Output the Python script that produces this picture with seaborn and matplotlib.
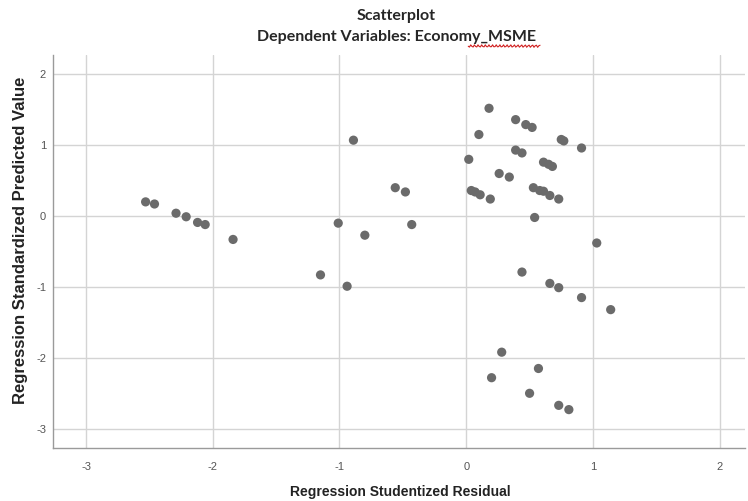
import matplotlib
matplotlib.use("Agg")
import matplotlib.pyplot as plt
import seaborn as sns
import pandas as pd
import numpy as np

# Studentized residual (x) vs standardized predicted value (y)
residual = [-2.53, -2.46, -2.29, -2.21, -2.12, -2.06, -1.84,
            -1.01, -0.80, -1.15, -0.94, -0.56, -0.48, -0.43, -0.89,
            0.18, 0.39, 0.47, 0.52, 0.10, 0.75, 0.77, 0.91, 0.39, 0.44,
            0.02, 0.61, 0.65, 0.68, 0.26, 0.34, 0.04, 0.07, 0.11, 0.19,
            0.53, 0.58, 0.61, 0.66, 0.73, 0.54, 1.03, 0.44, 0.66, 0.73,
            0.91, 1.14, 0.28, 0.57, 0.20, 0.50, 0.73, 0.81]
predicted = [0.20, 0.17, 0.04, -0.01, -0.09, -0.12, -0.33,
             -0.10, -0.27, -0.83, -0.99, 0.40, 0.34, -0.12, 1.07,
             1.52, 1.36, 1.29, 1.25, 1.15, 1.08, 1.06, 0.96, 0.93, 0.89,
             0.80, 0.76, 0.73, 0.70, 0.60, 0.55, 0.36, 0.34, 0.30, 0.24,
             0.40, 0.36, 0.35, 0.29, 0.24, -0.02, -0.38, -0.79, -0.95, -1.01,
             -1.15, -1.32, -1.92, -2.15, -2.28, -2.50, -2.67, -2.73]
x_ticks = [-3, -2, -1, 0, 1, 2]
y_ticks = [-3, -2, -1, 0, 1, 2]

df = pd.DataFrame({"resid": residual, "pred": predicted})

sns.set_style("white")
plt.rcParams['font.family'] = ['Liberation Sans', 'DejaVu Sans']
plt.rcParams['axes.unicode_minus'] = False

fig = plt.figure(figsize=(7.48, 5.01), dpi=100)
ax = fig.add_axes([0.071, 0.106, 0.925, 0.784])

ax.set_xlim(-3.26, 2.2)
ax.set_ylim(-3.27, 2.27)
ax.set_xticks(x_ticks)
ax.set_yticks(y_ticks)
ax.grid(True, color="#d4d4d4", linewidth=1)
ax.set_axisbelow(True)

sns.scatterplot(data=df, x="resid", y="pred", ax=ax, color="#6b6b6b",
                s=44, edgecolor="none", linewidth=0)

for side in ["top", "right"]:
    ax.spines[side].set_visible(False)
for side in ["left", "bottom"]:
    ax.spines[side].set_color("#9a9a9a")
    ax.spines[side].set_linewidth(1)

ax.tick_params(length=0, labelsize=8, labelcolor="#555555")
ax.tick_params(axis="x", pad=10)
ax.tick_params(axis="y", pad=5)
ax.set_xlabel("")
ax.set_ylabel("")

fig.text(0.535, 0.018, "Regression Studentized Residual", ha="center",
         va="center", fontsize=10, fontweight="bold", color="#222222",
         family=['Liberation Sans Narrow', 'Liberation Sans'])
fig.text(0.027, 0.52, "Regression Standardized Predicted Value", ha="center",
         va="center", rotation=90, fontsize=12, fontweight="bold",
         color="#222222")

fig.text(0.53, 0.968, "Scatterplot", ha="center", va="center",
         fontsize=11.5, fontweight="bold", family=['Lato', 'DejaVu Sans'])
fig.text(0.53, 0.926, "Dependent Variables: Economy_MSME", ha="center",
         va="center", fontsize=11.5, fontweight="bold",
         family=['Lato', 'DejaVu Sans'])

# red spell-check squiggle under "Economy_MSME"
wx = np.linspace(0.626, 0.722, 60)
wy = 0.908 + 0.0025 * np.sin(wx * 1300)
fig.add_artist(plt.Line2D(wx, wy, color="#d02020", linewidth=0.8,
                          transform=fig.transFigure))

fig.savefig("out.png", dpi=100)
